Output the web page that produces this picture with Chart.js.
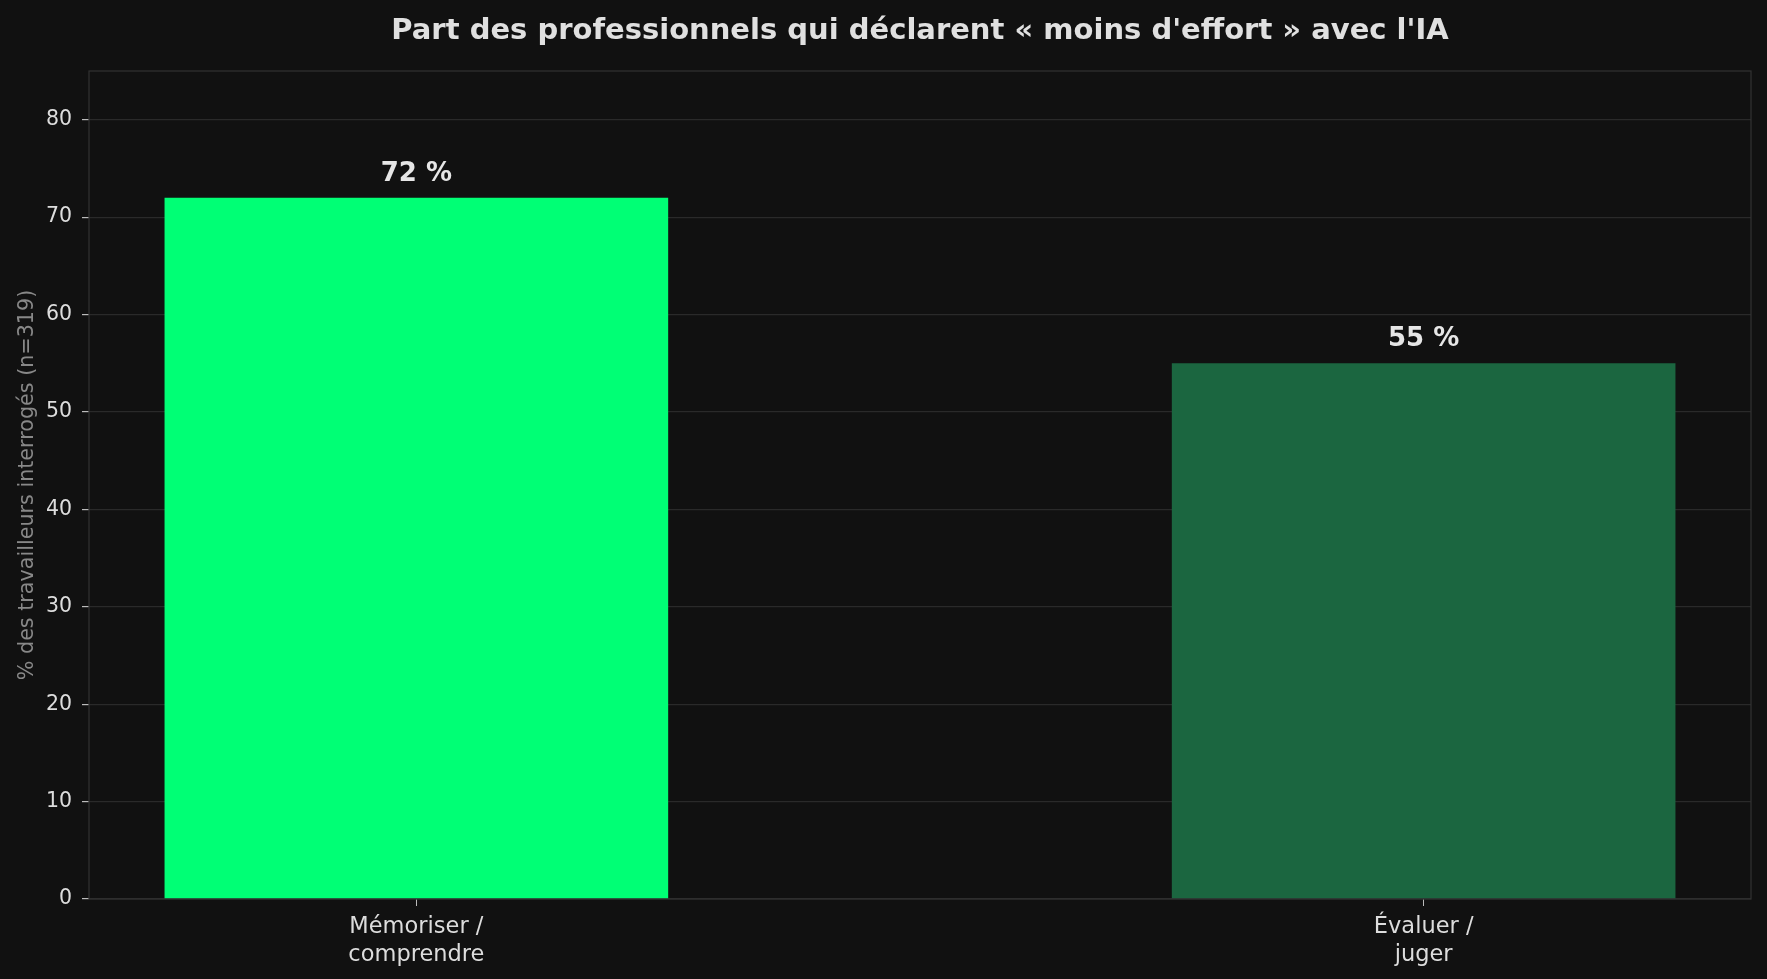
<!DOCTYPE html>
<html>
<head>
<meta charset="utf-8">
<script src="https://cdn.jsdelivr.net/npm/chart.js@4"></script>
<style>
  html, body { margin: 0; padding: 0; background: #111111; }
  #wrap { width: 1767px; height: 979px; }
</style>
</head>
<body>
<div id="wrap"><canvas id="c" width="1767" height="979"></canvas></div>
<script>
const categories = [["Mémoriser /", "comprendre"], ["Évaluer /", "juger"]];
const values = [72, 55];
const valueLabels = ["72 %", "55 %"];
const barColors = ["#00ff75", "#1b6640"];
const yTicks = [0, 10, 20, 30, 40, 50, 60, 70, 80];
const chartTitle = "Part des professionnels qui déclarent « moins d'effort » avec l'IA";

const FONT = "'DejaVu Sans', sans-serif";

const frame = {
  id: 'frame',
  afterDraw(chart) {
    const { ctx, chartArea: a } = chart;
    ctx.save();
    ctx.strokeStyle = '#333333';
    ctx.lineWidth = 1.2;
    ctx.strokeRect(a.left, a.top, a.right - a.left, a.bottom - a.top);
    ctx.font = `bold 29px ${FONT}`;
    ctx.fillStyle = '#e0e0e0';
    ctx.textAlign = 'center';
    ctx.textBaseline = 'alphabetic';
    ctx.fillText(chartTitle, (a.left + a.right) / 2, 38.5);
    ctx.restore();
  }
};

const valueLabelPlugin = {
  id: 'valueLabels',
  afterDatasetsDraw(chart) {
    const { ctx } = chart;
    const meta = chart.getDatasetMeta(0);
    ctx.save();
    ctx.font = `bold 26px ${FONT}`;
    ctx.fillStyle = '#e6e6e6';
    ctx.textAlign = 'center';
    ctx.textBaseline = 'alphabetic';
    meta.data.forEach((bar, i) => {
      ctx.fillText(valueLabels[i], bar.x, bar.y - 17);
    });
    ctx.restore();
  }
};

new Chart(document.getElementById('c'), {
  type: 'bar',
  data: {
    datasets: [{
      data: values.map((v, i) => ({ x: i, y: v })),
      backgroundColor: barColors,
      borderWidth: 0,
      barPercentage: 0.5,
      categoryPercentage: 1.0
    }]
  },
  options: {
    responsive: false,
    animation: false,
    devicePixelRatio: 1,
    layout: { padding: { left: 0, right: 16, top: 71, bottom: 0 } },
    plugins: {
      legend: { display: false },
      tooltip: { enabled: false },
      title: { display: false }
    },
    scales: {
      x: {
        type: 'linear',
        offset: false,
        min: -0.325,
        max: 1.325,
        afterBuildTicks(scale) {
          scale.ticks = categories.map((c, i) => ({ value: i }));
        },
        afterFit(scale) { scale.height = 80; },
        ticks: {
          color: '#dddddd',
          font: { family: FONT, size: 22.5, lineHeight: 1.22 },
          padding: 7.5,
          maxRotation: 0,
          autoSkip: false,
          callback: (v) => categories[v]
        },
        grid: {
          display: true,
          offset: false,
          drawOnChartArea: false,
          tickLength: 7,
          tickColor: '#bbbbbb',
          color: '#333333'
        },
        border: { display: false }
      },
      y: {
        min: 0,
        max: 85,
        afterBuildTicks(scale) {
          scale.ticks = yTicks.map(v => ({ value: v }));
        },
        afterFit(scale) { scale.width = 89; },
        ticks: {
          color: '#dddddd',
          font: { family: FONT, size: 20.5 },
          padding: 10
        },
        grid: {
          color: '#2a2a2a',
          lineWidth: 1.2,
          tickLength: 7,
          tickColor: '#bbbbbb'
        },
        border: { display: false },
        title: {
          display: true,
          text: '% des travailleurs interrogés (n=319)',
          color: '#888888',
          font: { family: FONT, size: 20.7 },
          padding: { top: 15, bottom: 0 }
        }
      }
    }
  },
  plugins: [frame, valueLabelPlugin]
});
</script>
</body>
</html>
